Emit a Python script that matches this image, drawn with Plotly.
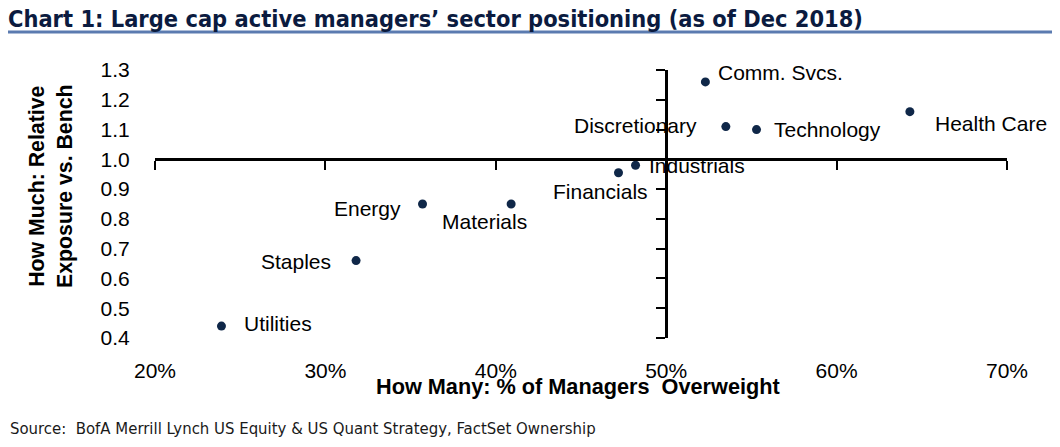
import plotly.graph_objects as go

# ---- data ----
sectors = ["Comm. Svcs.", "Discretionary", "Technology", "Health Care", "Industrials",
           "Financials", "Energy", "Materials", "Staples", "Utilities"]
pct_overweight = [52.3, 53.5, 55.3, 64.3, 48.2, 47.2, 35.7, 40.9, 31.8, 23.9]
rel_exposure = [1.26, 1.11, 1.10, 1.16, 0.98, 0.955, 0.85, 0.85, 0.66, 0.44]
x_ticks = [20, 30, 40, 50, 60, 70]
x_tick_labels = ["20%", "30%", "40%", "50%", "60%", "70%"]
y_ticks = [0.4, 0.5, 0.6, 0.7, 0.8, 0.9, 1.0, 1.1, 1.2, 1.3]
y_tick_labels = ["0.4", "0.5", "0.6", "0.7", "0.8", "0.9", "1.0", "1.1", "1.2", "1.3"]

# label placement (style): anchor, xshift, yshift in px
label_style = {
    "Comm. Svcs.": ("left", 11, 9),
    "Discretionary": ("right", -27, 1),
    "Technology": ("left", 15, 0),
    "Health Care": ("left", 23, -12),
    "Industrials": ("left", 11, 0),
    "Financials": ("right", 32, -19),
    "Energy": ("right", -20, -4),
    "Materials": ("center", -27, -17),
    "Staples": ("right", -23, -1),
    "Utilities": ("left", 21, 3),
}

# page body has an 8px margin: the figure starts at (8, 8) in the window
OFF = 8
WIN_W, WIN_H = 1060, 447
W, H = WIN_W - OFF, WIN_H - OFF
# plot area in window pixels
PL, PR, PT, PB = 155, 1007, 70, 338
L, T = PL - OFF, PT - OFF
R, B = W - (PR - OFF), H - (PB - OFF)
pw, ph = PR - PL, PB - PT


def px_x(px):  # window pixel -> paper x
    return (px - PL) / pw


def px_y(py):  # window pixel -> paper y
    return (PB - py) / ph


FONT = "Liberation Sans, Arial, sans-serif"
NARROW = "Liberation Sans Narrow, Arial Narrow, DejaVu Sans Condensed, sans-serif"

fig = go.Figure()
fig.add_trace(go.Scatter(
    x=pct_overweight, y=rel_exposure, mode="markers",
    marker=dict(size=9, color="#0f2748"), cliponaxis=False,
    hoverinfo="text", text=sectors, showlegend=False,
))
# dummy trace to bind the crossing axes
fig.add_trace(go.Scatter(x=[None], y=[None], xaxis="x2", yaxis="y2",
                         showlegend=False, hoverinfo="skip"))

for s, xv, yv in zip(sectors, pct_overweight, rel_exposure):
    anc, xs, ys = label_style[s]
    fig.add_annotation(x=xv, y=yv, text=s, showarrow=False, xanchor=anc,
                       yanchor="middle", xshift=xs, yshift=ys,
                       font=dict(family=FONT, size=21, color="#000"))

xmin, xmax = x_ticks[0], x_ticks[-1]
ymin, ymax = y_ticks[0], y_ticks[-1]
cross_x = 50
cross_y = 1.0

fig.update_layout(
    width=W, height=H,
    margin=dict(l=L, r=R, t=T, b=B, pad=0),
    paper_bgcolor="white", plot_bgcolor="white",
    xaxis=dict(range=[xmin, xmax], tickvals=x_ticks, ticktext=x_tick_labels,
               showgrid=False, zeroline=False, showline=False,
               ticks="outside", ticklen=14, tickcolor="rgba(0,0,0,0)",
               tickfont=dict(family=FONT, size=21, color="#000")),
    yaxis=dict(range=[ymin, ymax], tickvals=y_ticks, ticktext=y_tick_labels,
               showgrid=False, zeroline=False, showline=False,
               ticks="outside", ticklen=20, tickcolor="rgba(0,0,0,0)",
               tickfont=dict(family=FONT, size=21, color="#000")),
    xaxis2=dict(range=[xmin, xmax], overlaying="x", anchor="free",
                position=(cross_y - ymin) / (ymax - ymin),
                tickvals=x_ticks, showticklabels=False, showgrid=False,
                zeroline=False, showline=True, linecolor="#000", linewidth=3,
                ticks="outside", ticklen=9, tickwidth=2, tickcolor="#000"),
    yaxis2=dict(range=[ymin, ymax], overlaying="y", anchor="free",
                position=(cross_x - xmin) / (xmax - xmin),
                tickvals=y_ticks, showticklabels=False, showgrid=False,
                zeroline=False, showline=True, linecolor="#000", linewidth=3,
                ticks="outside", ticklen=9, tickwidth=2, tickcolor="#000"),
    title=dict(text="<b>Chart 1: Large cap active managers’ sector positioning (as of Dec 2018)</b>",
               x=0.0, xanchor="left", xref="container",
               y=1 - (19 - OFF) / H, yanchor="middle", yref="container",
               font=dict(family=NARROW, size=23.4, color="#0b1b3f")),
)

# title underline
fig.add_shape(type="line", xref="paper", yref="paper",
              x0=px_x(OFF - 2), x1=px_x(WIN_W + 2), y0=px_y(32), y1=px_y(32),
              line=dict(color="#5b7bb0", width=3))

# axis titles
fig.add_annotation(xref="paper", yref="paper", x=px_x(578), y=px_y(386),
                   text="<b>How Many: % of Managers  Overweight</b>", showarrow=False,
                   xanchor="center", yanchor="middle",
                   font=dict(family=FONT, size=21.7, color="#000"))
fig.add_annotation(xref="paper", yref="paper", x=px_x(51), y=px_y(186),
                   text="<b>How Much: Relative<br>Exposure vs. Bench</b>", showarrow=False,
                   textangle=-90, xanchor="center", yanchor="middle",
                   font=dict(family=FONT, size=21.3, color="#000"))
# source
fig.add_annotation(xref="paper", yref="paper", x=px_x(OFF), y=px_y(428),
                   text="Source:  BofA Merrill Lynch US Equity & US Quant Strategy, FactSet Ownership",
                   showarrow=False, xanchor="left", yanchor="middle",
                   font=dict(family=NARROW, size=16.6, color="#1a1a1a"))

fig.write_html("out.html")
